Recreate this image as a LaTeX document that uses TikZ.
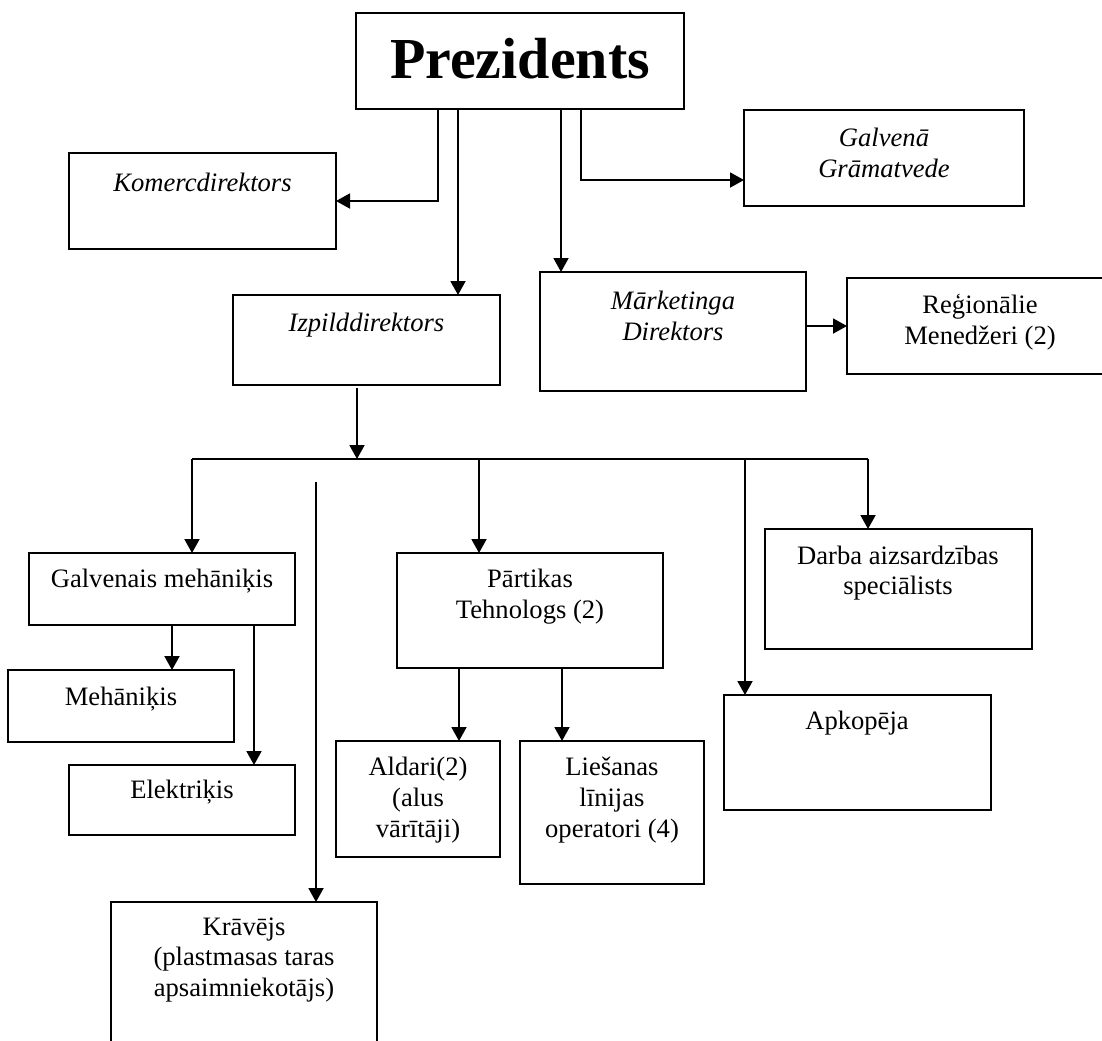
\documentclass[tikz,border=0pt]{standalone}
\usepackage{fontspec}
\setmainfont{Liberation Serif}
\usetikzlibrary{arrows.meta,calc}
\begin{document}
\begin{tikzpicture}[x=0.5pt,y=-0.5pt,
  bx/.style={draw,line width=0.95pt,inner sep=0pt,outer sep=0pt},
  tx/.style={align=center,inner sep=0pt,font=\fontsize{13.3}{15.4}\selectfont},
  itx/.style={tx,font=\fontsize{13.3}{15.4}\selectfont\itshape},
  ln/.style={line width=0.95pt},
  arr/.style={line width=0.95pt,-{Triangle[length=7pt,width=7.5pt]}}]
\useasboundingbox[fill=white] (0,0) rectangle (1102,1040);
% boxes
\node[bx,minimum width=164pt,minimum height=48pt] (pres) at (520,61) {};
\node[inner sep=0pt,font=\fontsize{29}{30}\selectfont\bfseries] (pres-t) at (520,59) {Prezidents};
\node[bx,minimum width=133.5pt,minimum height=48pt] (komerc) at (202.5,201) {};
\node[itx] (komerc-t) at (202.5,182) {Komercdirektors};
\node[bx,minimum width=140pt,minimum height=48pt] (galv) at (884,158) {};
\node[itx] (galv-t) at (884,153) {Galvenā\\Grāmatvede};
\node[bx,minimum width=133.5pt,minimum height=45pt] (izpild) at (366.5,340) {};
\node[itx] (izpild-t) at (366.5,325) {Izpilddirektors};
\node[bx,minimum width=133pt,minimum height=59.5pt] (mark) at (673,331.5) {};
\node[itx] (mark-t) at (673,316) {Mārketinga\\Direktors};
\node[bx,minimum width=130pt,minimum height=48pt] (reg) at (977,326) {};
\node[tx] (reg-t) at (980,322) {Reģionālie\\Menedžeri (2)};
\node[bx,minimum width=133pt,minimum height=36pt] (galvmeh) at (162,589) {};
\node[tx] (galvmeh-t) at (162,581) {Galvenais mehāniķis};
\node[bx,minimum width=133pt,minimum height=57.5pt] (part) at (530,610.5) {};
\node[tx] (part-t) at (530,597) {Pārtikas\\Tehnologs (2)};
\node[bx,minimum width=133.5pt,minimum height=60pt] (darba) at (898.5,589) {};
\node[tx] (darba-t) at (898,573) {Darba aizsardzības\\speciālists};
\node[bx,minimum width=113pt,minimum height=36pt] (meh) at (121,706) {};
\node[tx] (meh-t) at (121,699) {Mehāniķis};
\node[bx,minimum width=113pt,minimum height=35pt] (elek) at (182,800) {};
\node[tx] (elek-t) at (182,792) {Elektriķis};
\node[bx,minimum width=82pt,minimum height=58pt] (aldari) at (418,799) {};
\node[tx] (aldari-t) at (418,800) {Aldari(2)\\(alus\\vārītāji)};
\node[bx,minimum width=92pt,minimum height=71.5pt] (lies) at (612,812.5) {};
\node[tx] (lies-t) at (612,800) {Liešanas\\līnijas\\operatori (4)};
\node[bx,minimum width=133.5pt,minimum height=57.5pt] (apk) at (857.5,752.5) {};
\node[tx] (apk-t) at (857,723) {Apkopēja};
\node[bx,minimum width=133pt,minimum height=80pt] (krav) at (244,982) {};
\node[tx] (krav-t) at (244,960) {Krāvējs\\(plastmasas taras\\apsaimniekotājs)};
% connector points
\coordinate (p1) at ($(pres.south west)+(82,0)$);
\coordinate (p2) at ($(pres.south west)+(102,0)$);
\coordinate (p3) at ($(pres.south west)+(205,0)$);
\coordinate (p4) at ($(pres.south west)+(225,0)$);
\coordinate (gy) at ($(galv.south west)+(0,-26)$);
\coordinate (iz) at ($(izpild.south west)+(124,3)$);
\coordinate (busL) at (192,459);
\coordinate (busR) at (868,459);
\coordinate (bmid) at (iz |- busL);
\coordinate (bp) at (479,459);
\coordinate (ba) at (745,459);
\coordinate (kt) at (316,482);
\coordinate (g1) at ($(galvmeh.south west)+(143,0)$);
\coordinate (g2) at ($(galvmeh.south west)+(225,0)$);
\coordinate (q1) at ($(part.south west)+(62,0)$);
\coordinate (q2) at ($(part.south west)+(165,0)$);
% connectors
\draw[arr] (p1) |- (komerc.east);
\draw[arr] (p2) -- (p2 |- izpild.north);
\draw[arr] (p3) -- (p3 |- mark.north);
\draw[arr] (p4) |- (gy);
\draw[arr] (mark.east |- reg.west) -- (reg.west);
\draw[arr] (iz) -- (bmid);
\draw[ln] (busL) -- (busR);
\draw[arr] (busL) -- (busL |- galvmeh.north);
\draw[arr] (bp) -- (bp |- part.north);
\draw[arr] (ba) -- (ba |- apk.north);
\draw[arr] (busR) -- (busR |- darba.north);
\draw[arr] (kt) -- (kt |- krav.north);
\draw[arr] (g1) -- (g1 |- meh.north);
\draw[arr] (g2) -- (g2 |- elek.north);
\draw[arr] (q1) -- (q1 |- aldari.north);
\draw[arr] (q2) -- (q2 |- lies.north);
\end{tikzpicture}
\end{document}
